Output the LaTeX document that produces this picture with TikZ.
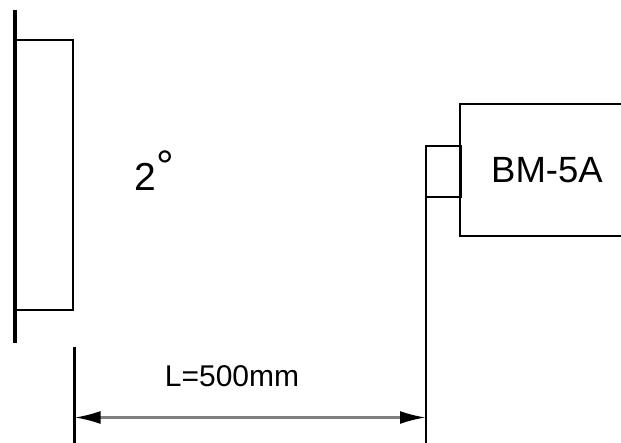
\documentclass[tikz,border=0pt]{standalone}
\usepackage{fontspec}
\setmainfont{Liberation Sans}
\usetikzlibrary{arrows.meta}

\begin{document}
\begin{tikzpicture}[x=1pt,y=-1pt,line width=2.8pt,
    >={Latex[length=26pt,width=13pt,black]},
    dimline/.style={line width=2.6pt,draw=black!50}]
                \useasboundingbox (0,0) rectangle (621,443);
                % wall with plate
                \draw[line width=3.4pt](15,10) -- (15,343);
                \draw(15,40) -- (73,40) -- (73,310) -- (15,310);
                \node[anchor=base west,inner sep=0pt,font=\fontsize{39}{44}\selectfont](angle)at(133, 191){2\raisebox{9pt}{\fontsize{44}{48}\selectfont °}};
                % instrument
                \draw(626,104) -- (460,104) -- (460,236) -- (626,236);
                \draw(426,146) rectangle (461,197);
                \draw(426,197) -- (426,445);
                \node[font=\fontsize{36.5}{40}\selectfont](instrument)at(547, 170){BM-5A};
                % distance
                \draw[line width=2.6pt](74.5,347) -- (74.5,445);
                \coordinate(dimL)at(74.5, 417.5);
                \coordinate(dimR)at(426, 417.5);
                \draw[dimline,<->](dimL) -- (dimR);
                \node[font=\fontsize{30}{34}\selectfont](distance)at(232, 376.5){L=500mm};
            \end{tikzpicture}
\end{document}
